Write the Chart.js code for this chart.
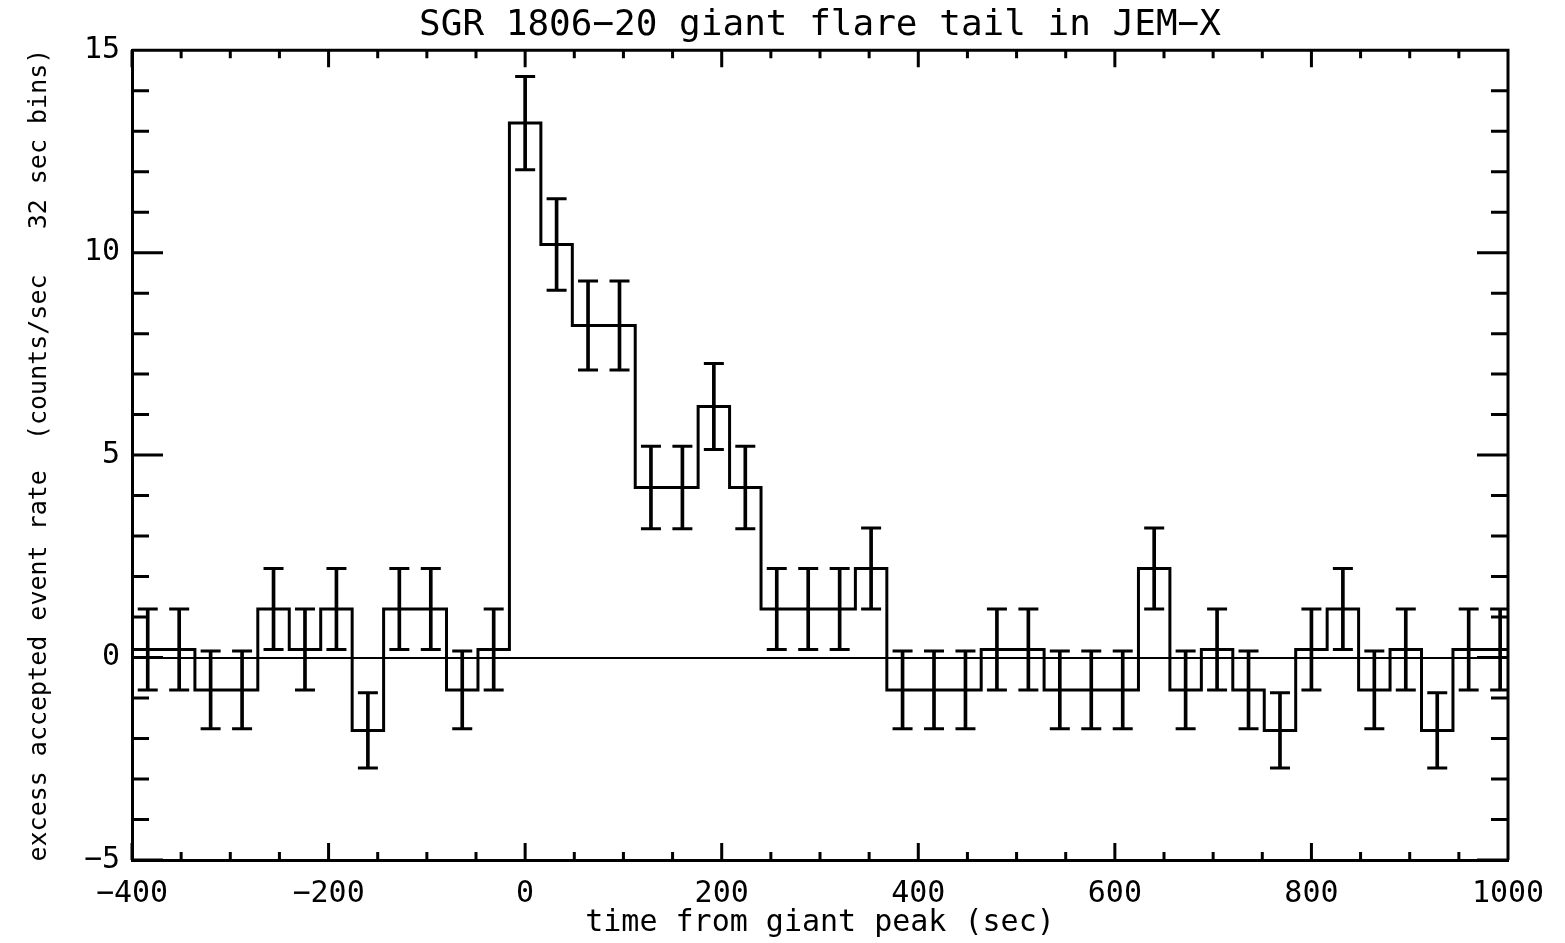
<!DOCTYPE html>
<html>
<head>
<meta charset="utf-8">
<title>SGR 1806-20 giant flare tail in JEM-X</title>
<script src="https://cdn.jsdelivr.net/npm/chart.js@4/dist/chart.umd.min.js"></script>
<style>
  html, body { margin: 0; padding: 0; background: #fff; }
  canvas { display: block; }
</style>
</head>
<body>
<canvas id="flareChart" width="1565" height="943"></canvas>
<script>
// 32 sec bins, centre times (sec from giant peak)
const binCenters = [
  -384, -352, -320, -288, -256, -224, -192, -160, -128, -96, -64, -32,
  0, 32, 64, 96, 128, 160, 192, 224, 256, 288, 320, 352,
  384, 416, 448, 480, 512, 544, 576, 608, 640, 672, 704, 736,
  768, 800, 832, 864, 896, 928, 960, 992
];
// excess accepted event rate (counts/sec)
const rates = [
  0.2, 0.2, -0.8, -0.8, 1.2, 0.2, 1.2, -1.8, 1.2, 1.2, -0.8, 0.2,
  13.2, 10.2, 8.2, 8.2, 4.2, 4.2, 6.2, 4.2, 1.2, 1.2, 1.2, 2.2,
  -0.8, -0.8, -0.8, 0.2, 0.2, -0.8, -0.8, -0.8, 2.2, -0.8, 0.2, -0.8,
  -1.8, 0.2, 1.2, -0.8, 0.2, -1.8, 0.2, 0.2
];
// 1 sigma errors
const rateErrors = [
  1.0, 1.0, 0.96, 0.96, 1.0, 1.0, 1.0, 0.93, 1.0, 1.0, 0.96, 1.0,
  1.15, 1.13, 1.1, 1.1, 1.02, 1.02, 1.06, 1.02, 1.0, 1.0, 1.0, 1.0,
  0.96, 0.96, 0.96, 1.0, 1.0, 0.96, 0.96, 0.96, 1.0, 0.96, 1.0, 0.96,
  0.93, 1.0, 1.0, 0.96, 1.0, 0.93, 1.0, 1.0
];
const binWidth = 32;
const xTickValues = [-400, -200, 0, 200, 400, 600, 800, 1000];
const yTickValues = [-5, 0, 5, 10, 15];
const xMinorStep = 50;
const yMinorStep = 1;

const minus = v => String(v).replace('-', '\u2212');

// histogram outline: one point per left bin edge, plus the last right edge
const stepPoints = binCenters.map((c, i) => ({ x: c - binWidth / 2, y: rates[i] }));
stepPoints.push({ x: binCenters[binCenters.length - 1] + binWidth / 2, y: rates[rates.length - 1] });

const errorStems = binCenters.map((c, i) => ({ x: c, y: [rates[i] - rateErrors[i], rates[i] + rateErrors[i]] }));
const errorCaps = [];
binCenters.forEach((c, i) => {
  errorCaps.push({ x: c, y: rates[i] - rateErrors[i] });
  errorCaps.push({ x: c, y: rates[i] + rateErrors[i] });
});

// inward tick marks on all four sides + top/right frame
const frameTicks = {
  id: 'frameTicks',
  afterDraw(chart) {
    const { ctx, chartArea: a, scales: { x, y } } = chart;
    ctx.save();
    ctx.strokeStyle = '#000';
    ctx.lineWidth = 3;
    ctx.beginPath();
    ctx.moveTo(a.left, a.top);
    ctx.lineTo(a.right, a.top);
    ctx.lineTo(a.right, a.bottom);
    for (let v = x.min; v <= x.max; v += xMinorStep) {
      const px = x.getPixelForValue(v);
      const len = xTickValues.includes(v) ? 17 : 8;
      ctx.moveTo(px, a.bottom); ctx.lineTo(px, a.bottom - len);
      ctx.moveTo(px, a.top); ctx.lineTo(px, a.top + len);
    }
    for (let v = y.min; v <= y.max; v += yMinorStep) {
      const py = y.getPixelForValue(v);
      const len = yTickValues.includes(v) ? 31 : 17;
      ctx.moveTo(a.left, py); ctx.lineTo(a.left + len, py);
      ctx.moveTo(a.right, py); ctx.lineTo(a.right - len, py);
    }
    ctx.stroke();
    ctx.restore();
  }
};

Chart.defaults.font.family = '"DejaVu Sans Mono", monospace';
Chart.defaults.color = '#000';

new Chart(document.getElementById('flareChart'), {
  type: 'scatter',
  data: {
    datasets: [
      {
        type: 'line',
        data: stepPoints,
        stepped: 'before',
        borderColor: '#000',
        borderWidth: 3,
        pointRadius: 0,
        fill: false
      },
      {
        type: 'bar',
        data: errorStems,
        backgroundColor: '#000',
        borderWidth: 0,
        barThickness: 3
      },
      {
        type: 'scatter',
        data: errorCaps,
        pointStyle: 'line',
        pointRadius: 10,
        pointBorderWidth: 3,
        pointBorderColor: '#000',
        pointBackgroundColor: '#000'
      }
    ]
  },
  options: {
    responsive: false,
    animation: false,
    events: [],
    layout: { padding: { left: 0, right: 57, top: 0, bottom: 0 } },
    plugins: {
      legend: { display: false },
      tooltip: { enabled: false },
      title: {
        display: true,
        fullSize: false,
        text: 'SGR 1806\u221220 giant flare tail in JEM\u2212X',
        font: { size: 36, weight: 'normal' },
        color: '#000',
        padding: { top: 4, bottom: 3 }
      }
    },
    scales: {
      x: {
        type: 'linear',
        min: -400,
        max: 1000,
        offset: false,
        afterBuildTicks: s => { s.ticks = xTickValues.map(v => ({ value: v })); },
        afterFit: s => { s.height = 83; },
        ticks: {
          autoSkip: false,
          maxRotation: 0,
          padding: 16,
          font: { size: 30 },
          callback: v => minus(v)
        },
        grid: { display: false, drawTicks: false },
        border: { width: 3, color: '#000' },
        title: {
          display: true,
          text: 'time from giant peak (sec)',
          font: { size: 30 },
          padding: { top: 0, bottom: 2 }
        }
      },
      y: {
        type: 'linear',
        min: -5,
        max: 15,
        afterBuildTicks: s => { s.ticks = yTickValues.map(v => ({ value: v })); },
        afterFit: s => { s.width = 132; },
        ticks: {
          padding: 12,
          font: { size: 30 },
          callback: v => minus(v)
        },
        grid: {
          drawTicks: false,
          lineWidth: 2,
          color: c => (c.tick && c.tick.value === 0 ? '#000' : 'rgba(0,0,0,0)')
        },
        border: { width: 3, color: '#000' },
        title: {
          display: true,
          text: 'excess accepted event rate  (counts/sec   32 sec bins)',
          font: { size: 25 },
          padding: { top: 24, bottom: 0 }
        }
      }
    }
  },
  plugins: [frameTicks]
});
</script>
</body>
</html>
